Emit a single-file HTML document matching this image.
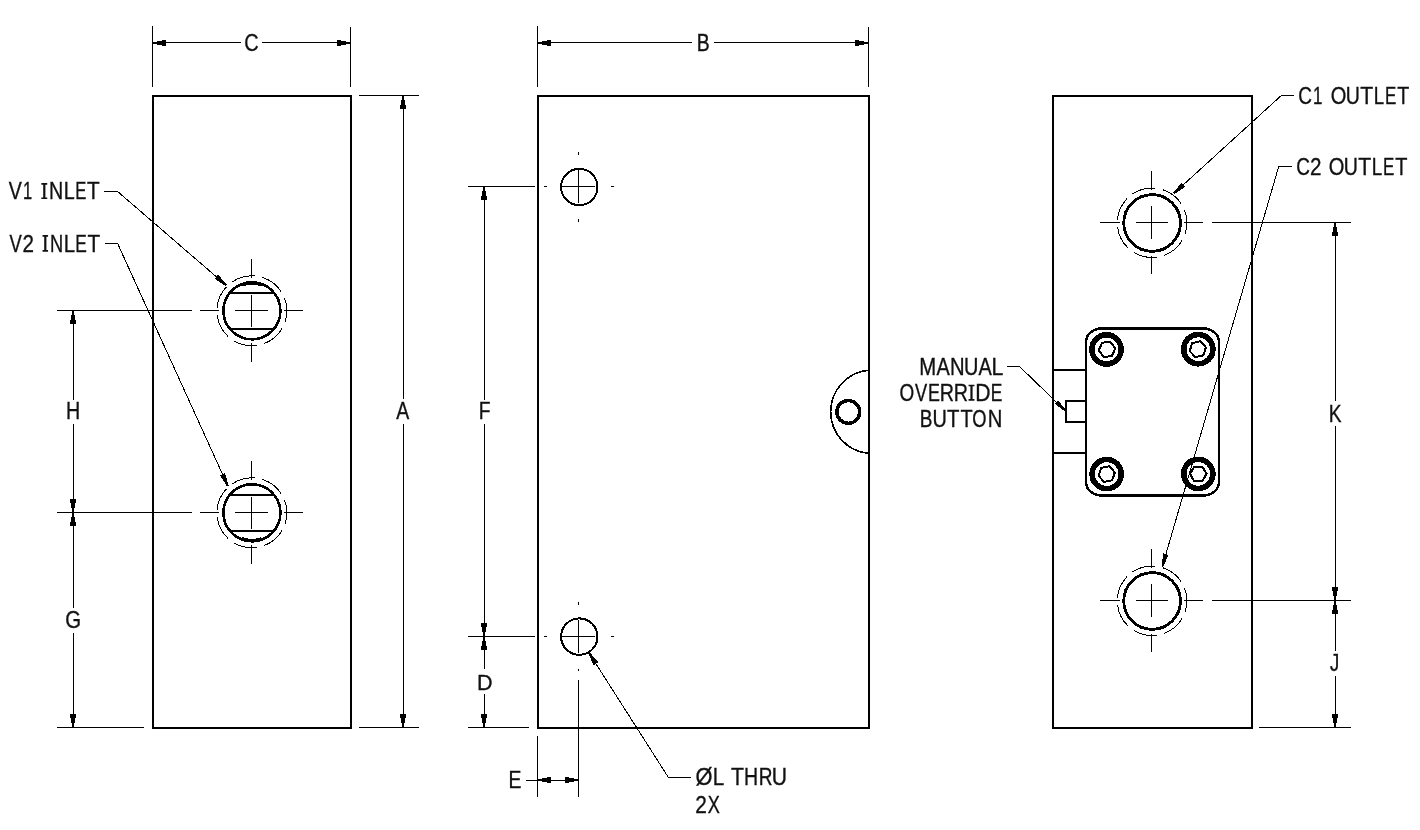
<!DOCTYPE html>
<html><head><meta charset="utf-8"><style>
html,body{margin:0;padding:0;background:#fff;}
body{width:1420px;height:830px;overflow:hidden;}
svg{display:block;filter:grayscale(1);}
text{font-family:"Liberation Sans",sans-serif;fill:#111;stroke:#111;stroke-width:0.35px;}
.t{fill:#111;stroke:none;shape-rendering:geometricPrecision;}
</style></head><body>
<svg width="1420" height="830" viewBox="0 0 1420 830" stroke="#000" fill="none" shape-rendering="crispEdges">
<rect x="0" y="0" width="1420" height="830" fill="#fff" stroke="none"/>
<rect x="153" y="96" width="198" height="632" stroke-width="2" fill="none"/>
<line x1="152.5" y1="26" x2="152.5" y2="87" stroke-width="1"/>
<line x1="350.5" y1="27" x2="350.5" y2="87" stroke-width="1"/>
<line x1="152.5" y1="42.5" x2="241" y2="42.5" stroke-width="1"/>
<line x1="262" y1="42.5" x2="350.5" y2="42.5" stroke-width="1"/>
<polygon points="152.50,42.00 157.00,42.00 157.00,44.00 152.50,44.00" fill="#000" stroke="none"/>
<polygon points="157.00,41.00 162.00,41.00 162.00,45.00 157.00,45.00" fill="#000" stroke="none"/>
<polygon points="162.00,40.00 166.10,40.00 166.10,46.00 162.00,46.00" fill="#000" stroke="none"/>
<polygon points="350.50,44.00 346.00,44.00 346.00,42.00 350.50,42.00" fill="#000" stroke="none"/>
<polygon points="346.00,45.00 341.00,45.00 341.00,41.00 346.00,41.00" fill="#000" stroke="none"/>
<polygon points="341.00,46.00 336.90,46.00 336.90,40.00 341.00,40.00" fill="#000" stroke="none"/>
<text transform="matrix(0.8142 0 0 1 244.34 50.81)" font-size="24.43">C</text>
<line x1="359" y1="95.5" x2="419" y2="95.5" stroke-width="1"/>
<line x1="359" y1="727.5" x2="419" y2="727.5" stroke-width="1"/>
<line x1="403.5" y1="95.5" x2="403.5" y2="399" stroke-width="1"/>
<line x1="403.5" y1="424" x2="403.5" y2="727.5" stroke-width="1"/>
<polygon points="404.00,95.50 404.00,100.00 402.00,100.00 402.00,95.50" fill="#000" stroke="none"/>
<polygon points="405.00,100.00 405.00,105.00 401.00,105.00 401.00,100.00" fill="#000" stroke="none"/>
<polygon points="406.00,105.00 406.00,109.10 400.00,109.10 400.00,105.00" fill="#000" stroke="none"/>
<polygon points="402.00,727.50 402.00,723.00 404.00,723.00 404.00,727.50" fill="#000" stroke="none"/>
<polygon points="401.00,723.00 401.00,718.00 405.00,718.00 405.00,723.00" fill="#000" stroke="none"/>
<polygon points="400.00,718.00 400.00,713.90 406.00,713.90 406.00,718.00" fill="#000" stroke="none"/>
<text transform="matrix(0.8015 0 0 1 396.31 419.35)" font-size="24.27">A</text>
<line x1="57" y1="310.5" x2="192" y2="310.5" stroke-width="1"/>
<line x1="57" y1="512.5" x2="192" y2="512.5" stroke-width="1"/>
<line x1="57" y1="727.5" x2="144" y2="727.5" stroke-width="1"/>
<line x1="73.5" y1="310.5" x2="73.5" y2="399.7" stroke-width="1"/>
<line x1="73.5" y1="423.9" x2="73.5" y2="512.5" stroke-width="1"/>
<line x1="73.5" y1="512.5" x2="73.5" y2="607.7" stroke-width="1"/>
<line x1="73.5" y1="633" x2="73.5" y2="727.5" stroke-width="1"/>
<polygon points="74.00,310.50 74.00,315.00 72.00,315.00 72.00,310.50" fill="#000" stroke="none"/>
<polygon points="75.00,315.00 75.00,320.00 71.00,320.00 71.00,315.00" fill="#000" stroke="none"/>
<polygon points="76.00,320.00 76.00,324.10 70.00,324.10 70.00,320.00" fill="#000" stroke="none"/>
<polygon points="72.00,512.50 72.00,508.00 74.00,508.00 74.00,512.50" fill="#000" stroke="none"/>
<polygon points="71.00,508.00 71.00,503.00 75.00,503.00 75.00,508.00" fill="#000" stroke="none"/>
<polygon points="70.00,503.00 70.00,498.90 76.00,498.90 76.00,503.00" fill="#000" stroke="none"/>
<polygon points="74.00,512.50 74.00,517.00 72.00,517.00 72.00,512.50" fill="#000" stroke="none"/>
<polygon points="75.00,517.00 75.00,522.00 71.00,522.00 71.00,517.00" fill="#000" stroke="none"/>
<polygon points="76.00,522.00 76.00,526.10 70.00,526.10 70.00,522.00" fill="#000" stroke="none"/>
<polygon points="72.00,727.50 72.00,723.00 74.00,723.00 74.00,727.50" fill="#000" stroke="none"/>
<polygon points="71.00,723.00 71.00,718.00 75.00,718.00 75.00,723.00" fill="#000" stroke="none"/>
<polygon points="70.00,718.00 70.00,713.90 76.00,713.90 76.00,718.00" fill="#000" stroke="none"/>
<text transform="matrix(0.8211 0 0 1 65.93 419.25)" font-size="23.98">H</text>
<text transform="matrix(0.8338 0 0 1 65.33 627.71)" font-size="24.43">G</text>
<circle cx="251.9" cy="310.8" r="28.5" stroke-width="2.6" fill="none" />
<path d="M261.65 285.41 A27.2 27.2 0 0 0 242.15 285.41" stroke-width="2.4" fill="none"/>
<circle cx="251.9" cy="310.8" r="35" stroke-width="1" fill="none" pathLength="360" stroke-dasharray="39 12.43" stroke-dashoffset="21"/>
<line x1="229.56258743721645" y1="292.8" x2="274.23741256278356" y2="292.8" stroke-width="2"/>
<line x1="230.13557949312687" y1="328.9" x2="273.66442050687317" y2="328.9" stroke-width="2"/>
<line x1="200" y1="310.5" x2="218.5" y2="310.5" stroke-width="1"/>
<line x1="235.4" y1="310.5" x2="267.8" y2="310.5" stroke-width="1"/>
<line x1="284" y1="310.5" x2="303" y2="310.5" stroke-width="1"/>
<line x1="251.5" y1="259.0" x2="251.5" y2="278.0" stroke-width="1"/>
<line x1="251.5" y1="294.5" x2="251.5" y2="326.5" stroke-width="1"/>
<line x1="251.5" y1="343.0" x2="251.5" y2="362.0" stroke-width="1"/>
<circle cx="251.9" cy="512.8" r="28.5" stroke-width="2.6" fill="none" />
<path d="M261.65 538.19 A27.2 27.2 0 0 1 242.15 538.19" stroke-width="2.4" fill="none"/>
<circle cx="251.9" cy="512.8" r="35" stroke-width="1" fill="none" pathLength="360" stroke-dasharray="39 12.43" stroke-dashoffset="21"/>
<line x1="229.56258743721645" y1="494.8" x2="274.23741256278356" y2="494.8" stroke-width="2"/>
<line x1="230.13557949312687" y1="530.9" x2="273.66442050687317" y2="530.9" stroke-width="2"/>
<line x1="200" y1="512.5" x2="218.5" y2="512.5" stroke-width="1"/>
<line x1="235.4" y1="512.5" x2="267.8" y2="512.5" stroke-width="1"/>
<line x1="284" y1="512.5" x2="303" y2="512.5" stroke-width="1"/>
<line x1="251.5" y1="461.0" x2="251.5" y2="480.0" stroke-width="1"/>
<line x1="251.5" y1="496.5" x2="251.5" y2="528.5" stroke-width="1"/>
<line x1="251.5" y1="545.0" x2="251.5" y2="564.0" stroke-width="1"/>
<text transform="matrix(0.8427 0 0 1 8.76 199.05)" font-size="23.26">V</text>
<text transform="matrix(0.7081 0 0 1 23.10 199.05)" font-size="23.26">1</text>
<path d="M41.35 183.05h5.90v1.6h-1.85V197.45h1.85v1.6h-5.90v-1.6h1.85V184.65h-1.85z" class="t"/>
<text transform="matrix(0.8468 0 0 1 49.03 199.05)" font-size="23.26">N</text>
<text transform="matrix(0.8484 0 0 1 63.73 199.05)" font-size="23.26">L</text>
<text transform="matrix(0.7140 0 0 1 75.29 199.05)" font-size="23.26">E</text>
<text transform="matrix(0.8898 0 0 1 86.99 199.05)" font-size="23.26">T</text>
<text transform="matrix(0.7619 0 0 1 9.57 251.65)" font-size="24.13">V</text>
<text transform="matrix(0.8552 0 0 1 22.51 251.65)" font-size="24.13">2</text>
<path d="M42.55 235.05h5.50v1.6h-1.65V250.05h1.65v1.6h-5.50v-1.6h1.65V236.65h-1.65z" class="t"/>
<text transform="matrix(0.7568 0 0 1 49.95 251.65)" font-size="24.13">N</text>
<text transform="matrix(0.8460 0 0 1 63.68 251.65)" font-size="24.13">L</text>
<text transform="matrix(0.7188 0 0 1 75.23 251.65)" font-size="24.13">E</text>
<text transform="matrix(0.8576 0 0 1 87.39 251.65)" font-size="24.13">T</text>
<line x1="104.2" y1="191.5" x2="117.6" y2="191.5" stroke-width="1"/>
<line x1="117.6" y1="191.5" x2="226.2" y2="285.3" stroke-width="1"/>
<polygon points="225.61,285.98 214.56,278.88 218.16,274.72 226.79,284.62" fill="#000" stroke="none"/>
<line x1="105.2" y1="243.5" x2="117.6" y2="243.5" stroke-width="1"/>
<line x1="117.6" y1="243.5" x2="227.9" y2="486.1" stroke-width="1"/>
<polygon points="227.08,486.47 220.02,475.40 225.02,473.13 228.72,485.73" fill="#000" stroke="none"/>
<rect x="538" y="96" width="331" height="632" stroke-width="2" fill="none"/>
<line x1="537.5" y1="26" x2="537.5" y2="87" stroke-width="1"/>
<line x1="868.5" y1="27" x2="868.5" y2="87" stroke-width="1"/>
<line x1="537.5" y1="42.5" x2="692" y2="42.5" stroke-width="1"/>
<line x1="714.2" y1="42.5" x2="868.5" y2="42.5" stroke-width="1"/>
<polygon points="537.50,42.00 542.00,42.00 542.00,44.00 537.50,44.00" fill="#000" stroke="none"/>
<polygon points="542.00,41.00 547.00,41.00 547.00,45.00 542.00,45.00" fill="#000" stroke="none"/>
<polygon points="547.00,40.00 551.10,40.00 551.10,46.00 547.00,46.00" fill="#000" stroke="none"/>
<polygon points="868.50,44.00 864.00,44.00 864.00,42.00 868.50,42.00" fill="#000" stroke="none"/>
<polygon points="864.00,45.00 859.00,45.00 859.00,41.00 864.00,41.00" fill="#000" stroke="none"/>
<polygon points="859.00,46.00 854.90,46.00 854.90,40.00 859.00,40.00" fill="#000" stroke="none"/>
<text transform="matrix(0.8270 0 0 1 696.76 50.65)" font-size="23.40">B</text>
<circle cx="579.3" cy="187.0" r="18.2" stroke-width="2" fill="none" />
<line x1="561.8" y1="186.5" x2="595.0999999999999" y2="186.5" stroke-width="1"/>
<line x1="578.8" y1="169.8" x2="578.8" y2="202.7" stroke-width="1"/>
<line x1="543.8" y1="186.5" x2="546.8" y2="186.5" stroke-width="1"/>
<line x1="610.8" y1="186.5" x2="613.8" y2="186.5" stroke-width="1"/>
<line x1="578.8" y1="151.5" x2="578.8" y2="154.5" stroke-width="1"/>
<line x1="578.8" y1="218.5" x2="578.8" y2="221.5" stroke-width="1"/>
<circle cx="579.3" cy="636.6" r="18.2" stroke-width="2" fill="none" />
<line x1="561.8" y1="636.5" x2="595.0999999999999" y2="636.5" stroke-width="1"/>
<line x1="578.8" y1="619.8" x2="578.8" y2="652.7" stroke-width="1"/>
<line x1="543.8" y1="636.5" x2="546.8" y2="636.5" stroke-width="1"/>
<line x1="610.8" y1="636.5" x2="613.8" y2="636.5" stroke-width="1"/>
<line x1="578.8" y1="601.5" x2="578.8" y2="604.5" stroke-width="1"/>
<line x1="578.8" y1="668.5" x2="578.8" y2="671.0" stroke-width="1"/>
<line x1="468" y1="186.5" x2="535" y2="186.5" stroke-width="1"/>
<line x1="468" y1="636.5" x2="535" y2="636.5" stroke-width="1"/>
<line x1="468" y1="727.5" x2="529" y2="727.5" stroke-width="1"/>
<line x1="484.5" y1="186.5" x2="484.5" y2="399.5" stroke-width="1"/>
<line x1="484.5" y1="424" x2="484.5" y2="636.5" stroke-width="1"/>
<polygon points="485.00,186.50 485.00,191.00 483.00,191.00 483.00,186.50" fill="#000" stroke="none"/>
<polygon points="486.00,191.00 486.00,196.00 482.00,196.00 482.00,191.00" fill="#000" stroke="none"/>
<polygon points="487.00,196.00 487.00,200.10 481.00,200.10 481.00,196.00" fill="#000" stroke="none"/>
<polygon points="483.00,636.50 483.00,632.00 485.00,632.00 485.00,636.50" fill="#000" stroke="none"/>
<polygon points="482.00,632.00 482.00,627.00 486.00,627.00 486.00,632.00" fill="#000" stroke="none"/>
<polygon points="481.00,627.00 481.00,622.90 487.00,622.90 487.00,627.00" fill="#000" stroke="none"/>
<line x1="484.5" y1="636.5" x2="484.5" y2="669.3" stroke-width="1"/>
<line x1="484.5" y1="694.3" x2="484.5" y2="727.5" stroke-width="1"/>
<polygon points="485.00,636.50 485.00,641.00 483.00,641.00 483.00,636.50" fill="#000" stroke="none"/>
<polygon points="486.00,641.00 486.00,646.00 482.00,646.00 482.00,641.00" fill="#000" stroke="none"/>
<polygon points="487.00,646.00 487.00,650.10 481.00,650.10 481.00,646.00" fill="#000" stroke="none"/>
<polygon points="483.00,727.50 483.00,723.00 485.00,723.00 485.00,727.50" fill="#000" stroke="none"/>
<polygon points="482.00,723.00 482.00,718.00 486.00,718.00 486.00,723.00" fill="#000" stroke="none"/>
<polygon points="481.00,718.00 481.00,713.90 487.00,713.90 487.00,718.00" fill="#000" stroke="none"/>
<text transform="matrix(0.7923 0 0 1 478.87 419.35)" font-size="24.27">F</text>
<text transform="matrix(0.9718 0 0 1 476.88 689.65)" font-size="22.24">D</text>
<line x1="537.5" y1="735.7" x2="537.5" y2="796.6" stroke-width="1"/>
<line x1="578.5" y1="679.8" x2="578.5" y2="796.6" stroke-width="1"/>
<line x1="526" y1="780.5" x2="578.5" y2="780.5" stroke-width="1"/>
<polygon points="537.50,779.00 542.00,779.00 542.00,781.00 537.50,781.00" fill="#000" stroke="none"/>
<polygon points="542.00,778.00 547.00,778.00 547.00,782.00 542.00,782.00" fill="#000" stroke="none"/>
<polygon points="547.00,777.00 551.10,777.00 551.10,783.00 547.00,783.00" fill="#000" stroke="none"/>
<polygon points="578.50,781.00 574.00,781.00 574.00,779.00 578.50,779.00" fill="#000" stroke="none"/>
<polygon points="574.00,782.00 569.00,782.00 569.00,778.00 574.00,778.00" fill="#000" stroke="none"/>
<polygon points="569.00,783.00 564.90,783.00 564.90,777.00 569.00,777.00" fill="#000" stroke="none"/>
<text transform="matrix(0.8383 0 0 1 508.56 787.55)" font-size="23.11">E</text>
<line x1="588.9" y1="652.7" x2="668.3" y2="777.3" stroke-width="1"/>
<polygon points="589.66,652.22 598.21,662.19 593.57,665.14 588.14,653.18" fill="#000" stroke="none"/>
<line x1="668.3" y1="777.5" x2="691" y2="777.5" stroke-width="1"/>
<text transform="matrix(0.9055 0 0 1 695.49 785.25)" font-size="24.13">Ø</text>
<text transform="matrix(0.8554 0 0 1 712.86 785.25)" font-size="24.13">L</text>
<text transform="matrix(0.8796 0 0 1 730.97 785.25)" font-size="24.13">T</text>
<text transform="matrix(0.8087 0 0 1 743.95 785.25)" font-size="24.13">H</text>
<text transform="matrix(0.7888 0 0 1 758.79 785.25)" font-size="24.13">R</text>
<text transform="matrix(0.8758 0 0 1 771.72 785.25)" font-size="24.13">U</text>
<text transform="matrix(0.9044 0 0 1 695.20 812.65)" font-size="23.06">2</text>
<text transform="matrix(0.7860 0 0 1 707.74 812.65)" font-size="23.06">X</text>
<path d="M 869 370.2 A 41.74 41.74 0 0 0 869 453.4" stroke-width="1.6" fill="none"/>
<circle cx="848.3" cy="411.9" r="11.4" stroke-width="3.4" fill="none" />
<rect x="1053" y="96" width="199" height="632" stroke-width="2" fill="none"/>
<circle cx="1152.1" cy="223.0" r="28.35" stroke-width="2.9" fill="none" />
<circle cx="1152.1" cy="222.8" r="34.8" stroke-width="1" fill="none" pathLength="360" stroke-dasharray="39 12.43" stroke-dashoffset="21"/>
<line x1="1100" y1="222.5" x2="1119.8" y2="222.5" stroke-width="1"/>
<line x1="1136.1" y1="222.5" x2="1168" y2="222.5" stroke-width="1"/>
<line x1="1184.4" y1="222.5" x2="1203" y2="222.5" stroke-width="1"/>
<line x1="1212" y1="222.5" x2="1351" y2="222.5" stroke-width="1"/>
<line x1="1151.5" y1="171.0" x2="1151.5" y2="189.9" stroke-width="1"/>
<line x1="1151.5" y1="205.8" x2="1151.5" y2="238.9" stroke-width="1"/>
<line x1="1151.5" y1="255.5" x2="1151.5" y2="274.1" stroke-width="1"/>
<circle cx="1152.1" cy="601.0" r="28.35" stroke-width="2.9" fill="none" />
<circle cx="1152.1" cy="600.8" r="34.8" stroke-width="1" fill="none" pathLength="360" stroke-dasharray="39 12.43" stroke-dashoffset="21"/>
<line x1="1100" y1="600.5" x2="1119.8" y2="600.5" stroke-width="1"/>
<line x1="1136.1" y1="600.5" x2="1168" y2="600.5" stroke-width="1"/>
<line x1="1184.4" y1="600.5" x2="1203" y2="600.5" stroke-width="1"/>
<line x1="1212" y1="600.5" x2="1351" y2="600.5" stroke-width="1"/>
<line x1="1151.5" y1="549.0" x2="1151.5" y2="567.9" stroke-width="1"/>
<line x1="1151.5" y1="583.8" x2="1151.5" y2="616.9" stroke-width="1"/>
<line x1="1151.5" y1="633.5" x2="1151.5" y2="652.1" stroke-width="1"/>
<line x1="1259.3" y1="727.5" x2="1350.7" y2="727.5" stroke-width="1"/>
<line x1="1335.5" y1="222.5" x2="1335.5" y2="401" stroke-width="1"/>
<line x1="1335.5" y1="425.9" x2="1335.5" y2="600.5" stroke-width="1"/>
<line x1="1335.5" y1="600.5" x2="1335.5" y2="650.5" stroke-width="1"/>
<line x1="1335.5" y1="676.1" x2="1335.5" y2="727.5" stroke-width="1"/>
<polygon points="1336.00,222.50 1336.00,227.00 1334.00,227.00 1334.00,222.50" fill="#000" stroke="none"/>
<polygon points="1337.00,227.00 1337.00,232.00 1333.00,232.00 1333.00,227.00" fill="#000" stroke="none"/>
<polygon points="1338.00,232.00 1338.00,236.10 1332.00,236.10 1332.00,232.00" fill="#000" stroke="none"/>
<polygon points="1334.00,600.50 1334.00,596.00 1336.00,596.00 1336.00,600.50" fill="#000" stroke="none"/>
<polygon points="1333.00,596.00 1333.00,591.00 1337.00,591.00 1337.00,596.00" fill="#000" stroke="none"/>
<polygon points="1332.00,591.00 1332.00,586.90 1338.00,586.90 1338.00,591.00" fill="#000" stroke="none"/>
<polygon points="1336.00,600.50 1336.00,605.00 1334.00,605.00 1334.00,600.50" fill="#000" stroke="none"/>
<polygon points="1337.00,605.00 1337.00,610.00 1333.00,610.00 1333.00,605.00" fill="#000" stroke="none"/>
<polygon points="1338.00,610.00 1338.00,614.10 1332.00,614.10 1332.00,610.00" fill="#000" stroke="none"/>
<polygon points="1334.00,727.50 1334.00,723.00 1336.00,723.00 1336.00,727.50" fill="#000" stroke="none"/>
<polygon points="1333.00,723.00 1333.00,718.00 1337.00,718.00 1337.00,723.00" fill="#000" stroke="none"/>
<polygon points="1332.00,718.00 1332.00,713.90 1338.00,713.90 1338.00,718.00" fill="#000" stroke="none"/>
<text transform="matrix(0.7759 0 0 1 1328.68 421.55)" font-size="24.71">K</text>
<text transform="matrix(0.7981 0 0 1 1329.96 670.82)" font-size="23.22">J</text>
<text transform="matrix(0.7998 0 0 1 1298.19 103.55)" font-size="23.69">C</text>
<text transform="matrix(0.7146 0 0 1 1313.06 103.55)" font-size="23.69">1</text>
<text transform="matrix(0.8471 0 0 1 1330.70 103.55)" font-size="23.69">O</text>
<text transform="matrix(0.8250 0 0 1 1345.84 103.55)" font-size="23.69">U</text>
<text transform="matrix(0.8958 0 0 1 1360.37 103.55)" font-size="23.69">T</text>
<text transform="matrix(0.7850 0 0 1 1373.72 103.55)" font-size="23.69">L</text>
<text transform="matrix(0.7165 0 0 1 1385.06 103.55)" font-size="23.69">E</text>
<text transform="matrix(0.8286 0 0 1 1397.21 103.55)" font-size="23.69">T</text>
<text transform="matrix(0.7901 0 0 1 1296.19 174.55)" font-size="23.98">C</text>
<text transform="matrix(0.8603 0 0 1 1310.11 174.55)" font-size="23.98">2</text>
<text transform="matrix(0.8368 0 0 1 1328.70 174.55)" font-size="23.98">O</text>
<text transform="matrix(0.8150 0 0 1 1343.84 174.55)" font-size="23.98">U</text>
<text transform="matrix(0.8849 0 0 1 1358.37 174.55)" font-size="23.98">T</text>
<text transform="matrix(0.7849 0 0 1 1371.71 174.55)" font-size="23.98">L</text>
<text transform="matrix(0.7078 0 0 1 1383.06 174.55)" font-size="23.98">E</text>
<text transform="matrix(0.8333 0 0 1 1395.20 174.55)" font-size="23.98">T</text>
<line x1="1281.3" y1="95.5" x2="1293.9" y2="95.5" stroke-width="1"/>
<line x1="1281.3" y1="95.5" x2="1173.9" y2="193.4" stroke-width="1"/>
<polygon points="1173.29,192.73 1181.65,182.61 1185.36,186.67 1174.51,194.07" fill="#000" stroke="none"/>
<line x1="1278.7" y1="166.5" x2="1291.9" y2="166.5" stroke-width="1"/>
<line x1="1278.7" y1="166.5" x2="1162.3" y2="566.6" stroke-width="1"/>
<polygon points="1161.44,566.35 1163.29,553.35 1168.57,554.89 1163.16,566.85" fill="#000" stroke="none"/>
<line x1="1053" y1="369.6" x2="1086" y2="369.6" stroke-width="2"/>
<line x1="1053" y1="453" x2="1086" y2="453" stroke-width="2"/>
<rect x="1066" y="401.3" width="20" height="20.7" stroke-width="1.6" fill="none"/>
<rect x="1086" y="328.5" width="133" height="167" rx="15.5" ry="13.5" stroke-width="2.5" fill="#fff"/>
<circle cx="1106.5" cy="349.4" r="14.6" stroke-width="5.6" fill="none" />
<polygon points="1115.25,348.53 1111.88,356.11 1103.62,356.98 1098.75,350.27 1102.12,342.69 1110.38,341.82" stroke-width="2" fill="none"/>
<circle cx="1198.3" cy="349.2" r="14.6" stroke-width="5.6" fill="none" />
<polygon points="1205.89,347.33 1203.46,355.27 1195.37,357.14 1189.71,351.07 1192.14,343.13 1200.23,341.26" stroke-width="2" fill="none"/>
<circle cx="1106.7" cy="474.1" r="14.6" stroke-width="5.6" fill="none" />
<polygon points="1114.85,472.52 1112.15,480.36 1104.00,481.95 1098.55,475.68 1101.25,467.84 1109.40,466.25" stroke-width="2" fill="none"/>
<circle cx="1198.3" cy="473.9" r="14.6" stroke-width="5.6" fill="none" />
<polygon points="1206.60,473.90 1202.45,481.09 1194.15,481.09 1190.00,473.90 1194.15,466.71 1202.45,466.71" stroke-width="2" fill="none"/>
<line x1="1278.7" y1="166.5" x2="1162.3" y2="566.6" stroke-width="1"/>
<text transform="matrix(0.8426 0 0 1 919.28 374.55)" font-size="24.13">M</text>
<text transform="matrix(0.8250 0 0 1 936.41 374.55)" font-size="24.13">A</text>
<text transform="matrix(0.8384 0 0 1 949.89 374.55)" font-size="24.13">N</text>
<text transform="matrix(0.8247 0 0 1 963.91 374.55)" font-size="24.13">U</text>
<text transform="matrix(0.8250 0 0 1 978.61 374.55)" font-size="24.13">A</text>
<text transform="matrix(0.8836 0 0 1 991.60 374.55)" font-size="24.13">L</text>
<text transform="matrix(0.8126 0 0 1 899.45 400.65)" font-size="23.26">O</text>
<text transform="matrix(0.7839 0 0 1 915.07 400.65)" font-size="23.26">V</text>
<text transform="matrix(0.7696 0 0 1 927.98 400.65)" font-size="23.26">E</text>
<text transform="matrix(0.8473 0 0 1 939.83 400.65)" font-size="23.26">R</text>
<text transform="matrix(0.8473 0 0 1 953.73 400.65)" font-size="23.26">R</text>
<path d="M968.55 384.65h5.90v1.6h-1.85V399.05h1.85v1.6h-5.90v-1.6h1.85V386.25h-1.85z" class="t"/>
<text transform="matrix(0.9075 0 0 1 975.32 400.65)" font-size="23.26">D</text>
<text transform="matrix(0.7458 0 0 1 990.73 400.65)" font-size="23.26">E</text>
<text transform="matrix(0.8109 0 0 1 919.79 427.05)" font-size="23.40">B</text>
<text transform="matrix(0.8503 0 0 1 932.51 427.05)" font-size="23.40">U</text>
<text transform="matrix(0.8691 0 0 1 946.99 427.05)" font-size="23.40">T</text>
<text transform="matrix(0.8540 0 0 1 960.40 427.05)" font-size="23.40">T</text>
<text transform="matrix(0.7825 0 0 1 972.28 427.05)" font-size="23.40">O</text>
<text transform="matrix(0.8644 0 0 1 987.79 427.05)" font-size="23.40">N</text>
<line x1="1007.3" y1="366.5" x2="1019.5" y2="366.5" stroke-width="1"/>
<line x1="1019.5" y1="366.5" x2="1064.9" y2="410.3" stroke-width="1"/>
<polygon points="1064.28,410.95 1054.53,403.77 1058.00,400.17 1065.52,409.65" fill="#000" stroke="none"/>
</svg>
</body></html>
